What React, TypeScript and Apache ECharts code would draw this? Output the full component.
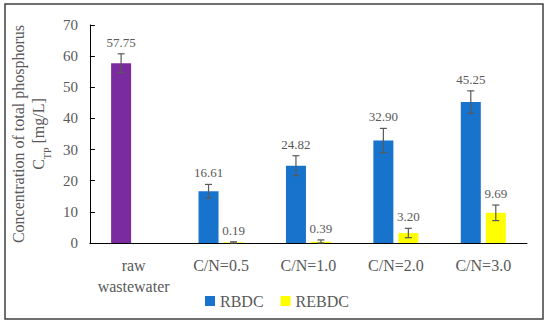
import React, { useEffect, useRef } from "react";
import * as echarts from "echarts";

const categories = ["raw\nwastewater", "C/N=0.5", "C/N=1.0", "C/N=2.0", "C/N=3.0"];
const rbdcValues = [57.75, 16.61, 24.82, 32.9, 45.25];
const rbdcErrors = [3.0, 2.2, 3.2, 3.9, 3.6];
const rebdcValues: (number | null)[] = [null, 0.19, 0.39, 3.2, 9.69];
const rebdcErrors: (number | null)[] = [null, 0.2, 0.6, 1.5, 2.5];
const yTicks = { min: 0, max: 70, interval: 10 };

const FONT = "'Liberation Serif', serif";
const GREY = "#595959";
const BLUE = "#1873CC";
const YELLOW = "#FFFF00";
const PURPLE = "#7B2BA0";

function errorSeries(name: string, values: (number | null)[], errors: (number | null)[], offset: number) {
  const data = values.map((v, i) => (v == null ? [i, null, null] : [i, v, errors[i]]));
  return {
    type: "custom",
    name: name + "_err",
    z: 5,
    silent: true,
    data,
    renderItem: (params: any, api: any) => {
      const v = api.value(1);
      const e = api.value(2);
      if (v == null || isNaN(v)) return null;
      const c = api.coord([api.value(0), v]);
      const top = api.coord([api.value(0), v + e]);
      const bot = api.coord([api.value(0), Math.max(v - e, 0)]);
      const x = c[0] + offset;
      const cap = 3.5;
      const st = { stroke: GREY, lineWidth: 1.2 };
      return {
        type: "group",
        children: [
          { type: "line", shape: { x1: x, y1: top[1], x2: x, y2: bot[1] }, style: st },
          { type: "line", shape: { x1: x - cap, y1: top[1], x2: x + cap, y2: top[1] }, style: st },
          { type: "line", shape: { x1: x - cap, y1: bot[1], x2: x + cap, y2: bot[1] }, style: st },
          {
            type: "text",
            x: x,
            y: top[1] - 5,
            style: {
              text: Number(v).toFixed(2),
              fill: GREY,
              font: `13px ${FONT}`,
              align: "center",
              verticalAlign: "bottom",
            },
          },
        ],
      };
    },
  };
}

export default function App() {
  const ref = useRef<HTMLDivElement>(null);
  useEffect(() => {
    document.body.style.margin = "0";
    const chart = echarts.init(ref.current!, null, { renderer: "svg" });
    chart.setOption({
      animation: false,
      textStyle: { fontFamily: FONT },
      grid: { left: 89, right: 23, top: 25, bottom: 83 },
      legend: {
        data: ["RBDC", "REBDC"],
        left: 200,
        top: 288,
        itemWidth: 10,
        itemHeight: 10,
        itemGap: 17,
        icon: "rect",
        textStyle: { fontFamily: FONT, fontSize: 16, color: GREY },
      },
      graphic: [
        {
          type: "rect",
          shape: { x: 5, y: 4, width: 538, height: 315 },
          style: { fill: "none", stroke: "#404040", lineWidth: 1.5 },
        },
      ],
      xAxis: {
        type: "category",
        data: categories,
        axisLine: { lineStyle: { color: "#000", width: 1 } },
        axisTick: { show: false },
        axisLabel: { interval: 0, fontFamily: FONT, fontSize: 16, color: GREY, lineHeight: 21, margin: 12 },
      },
      yAxis: {
        type: "value",
        min: yTicks.min,
        max: yTicks.max,
        interval: yTicks.interval,
        name: "Concentration of total phosphorus\n{a|C}{sub|TP}{a| [mg/L]}",
        nameLocation: "middle",
        nameRotate: 90,
        nameGap: 34,
        nameTextStyle: {
          fontFamily: FONT,
          fontSize: 16,
          color: GREY,
          lineHeight: 20,
          rich: {
            a: { fontFamily: FONT, fontSize: 16, color: GREY, lineHeight: 20 },
            sub: { fontFamily: FONT, fontSize: 10, color: GREY, lineHeight: 20, verticalAlign: "bottom", padding: [0, 0, -4, 0] },
          },
        },
        axisLine: { show: true, lineStyle: { color: "#000", width: 1 } },
        axisTick: { show: true, inside: true, length: 5, lineStyle: { color: "#000" } },
        splitLine: { show: false },
        axisLabel: { fontFamily: FONT, fontSize: 15, color: GREY, margin: 12 },
      },
      series: [
        {
          type: "bar",
          name: "RBDC",
          barWidth: 20,
          barGap: "25%",
          itemStyle: { color: BLUE },
          data: rbdcValues.map((v, i) => (i === 0 ? { value: v, itemStyle: { color: PURPLE } } : v)),
        },
        {
          type: "bar",
          name: "REBDC",
          barWidth: 20,
          barGap: "25%",
          itemStyle: { color: YELLOW },
          data: rebdcValues,
        },
        errorSeries("RBDC", rbdcValues, rbdcErrors, -12.5),
        errorSeries("REBDC", rebdcValues, rebdcErrors, 12.5),
      ],
    });
    return () => chart.dispose();
  }, []);
  return <div ref={ref} style={{ width: 550, height: 326, position: "absolute", left: 0, top: 0 }} />;
}
